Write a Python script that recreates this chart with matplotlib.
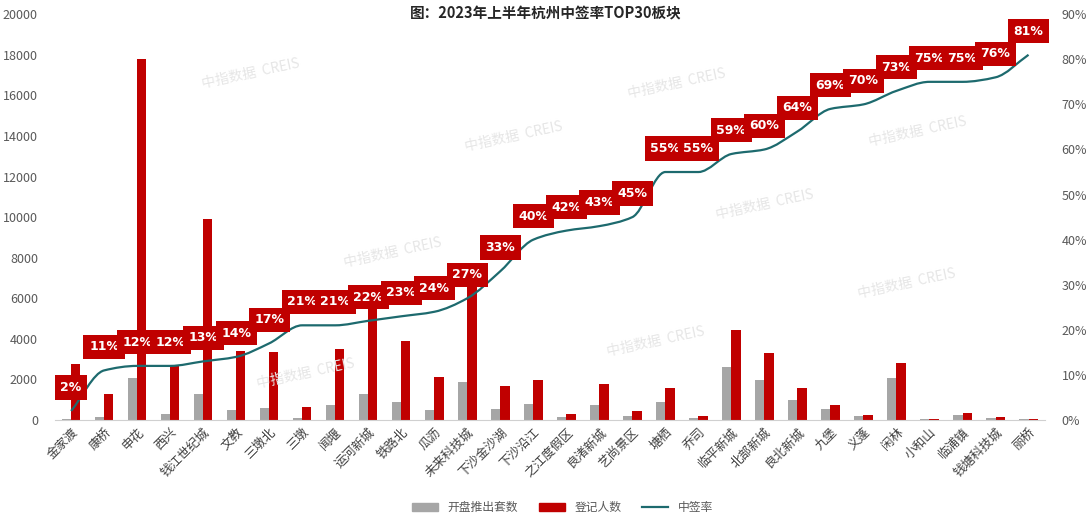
import numpy as np
import matplotlib
matplotlib.use('Agg')
import matplotlib.pyplot as plt
from matplotlib.path import Path
from matplotlib.patches import PathPatch, Patch
from matplotlib.lines import Line2D

plt.rcParams['font.family'] = ['Noto Sans CJK SC', 'DejaVu Sans']

# 数据
blocks = ['金家渡', '康桥', '申花', '西兴', '钱江世纪城', '文教', '三墩北', '三墩', '闻堰', '运河新城',
          '铁路北', '瓜沥', '未来科技城', '下沙金沙湖', '下沙沿江', '之江度假区', '良渚新城', '艺尚景区', '塘栖', '乔司',
          '临平新城', '北部新城', '良北新城', '九堡', '义蓬', '闲林', '小和山', '临浦镇', '钱塘科技城', '丽桥']
supply = [60, 140, 2070, 320, 1280, 480, 570, 120, 740, 1280,
          900, 510, 1860, 560, 780, 125, 750, 200, 870, 100,
          2620, 1980, 1010, 520, 180, 2050, 45, 250, 115, 57]
register = [2750, 1280, 17800, 2700, 9900, 3400, 3350, 650, 3520, 5800,
            3900, 2120, 6900, 1690, 1960, 300, 1760, 460, 1600, 180,
            4440, 3300, 1590, 750, 260, 2820, 60, 340, 150, 70]
rate = [2, 11, 12, 12, 13, 14, 17, 21, 21, 22, 23, 24, 27, 33, 40,
        42, 43, 45, 55, 55, 59, 60, 64, 69, 70, 73, 75, 75, 76, 81]

red = '#c00000'
gray = '#a6a6a6'
teal = '#1d6a6e'
tick_c = '#595959'

fig = plt.figure(figsize=(10.92, 5.26), dpi=100)
ax = fig.add_axes([0.050, 0.2015, 0.907, 0.7715])
ax2 = ax.twinx()

x = np.arange(len(blocks))
w = 0.28
ax.bar(x - w / 2, supply, w, color=gray, zorder=2)
ax.bar(x + w / 2, register, w, color=red, zorder=2)

ax.set_xlim(-0.5, len(blocks) - 0.5)
ax.set_ylim(0, 20000)
ax.set_yticks(np.arange(0, 20001, 2000))
ax.set_xticks(x)
ax.set_xticklabels(blocks, rotation=45, ha='right', rotation_mode='anchor',
                   fontsize=9, color='#404040')
ax.tick_params(axis='y', length=0, labelsize=9, labelcolor=tick_c, pad=12)
ax.tick_params(axis='x', length=0, pad=4)
for s in ['top', 'right', 'left']:
    ax.spines[s].set_visible(False)
ax.spines['bottom'].set_color('#d0d0d0')

# 中签率 平滑曲线（单调三次）
r = np.array(rate, dtype=float)
d = np.diff(r)
m = np.zeros_like(r)
m[0], m[-1] = d[0], d[-1]
for i in range(1, len(r) - 1):
    if d[i - 1] * d[i] <= 0:
        m[i] = 0
    else:
        m[i] = 2 / (1 / d[i - 1] + 1 / d[i])
verts = [(x[0], r[0])]
codes = [Path.MOVETO]
for i in range(len(x) - 1):
    verts += [(x[i] + 1 / 3, r[i] + m[i] / 3),
              (x[i + 1] - 1 / 3, r[i + 1] - m[i + 1] / 3),
              (x[i + 1], r[i + 1])]
    codes += [Path.CURVE4] * 3
ax2.add_patch(PathPatch(Path(verts, codes), fill=False, edgecolor=teal, lw=1.6, zorder=3))

ax2.set_ylim(0, 90)
ax2.set_yticks(np.arange(0, 91, 10))
ax2.set_yticklabels([f'{v}%' for v in range(0, 91, 10)])
ax2.tick_params(axis='y', length=0, labelsize=9, labelcolor=tick_c, pad=12)
for s in ['top', 'right', 'left', 'bottom']:
    ax2.spines[s].set_visible(False)

for xi, v in zip(x, rate):
    ax2.annotate(f'{v}%', (xi, v), xytext=(0, 17), textcoords='offset points',
                 ha='center', va='center', fontsize=9, fontweight='bold', color='white',
                 family=['DejaVu Sans'], zorder=5,
                 bbox=dict(boxstyle='square,pad=0.45', fc=red, ec='none'))

# 水印
for wx, wy in [(0.23, 0.86), (0.62, 0.84), (0.47, 0.74), (0.84, 0.75), (0.36, 0.52),
               (0.70, 0.61), (0.83, 0.46), (0.60, 0.35), (0.28, 0.29)]:
    fig.text(wx, wy, '中指数据  CREIS', fontsize=10, color='#e6e6e6', rotation=12,
             ha='center', va='center', zorder=0)

fig.text(0.5, 0.975, '图：2023年上半年杭州中签率TOP30板块', ha='center', va='center',
         fontsize=10.5, fontweight='bold', color='#262626')

handles = [Patch(color=gray), Patch(color=red), Line2D([], [], color=teal, lw=1.6)]
fig.legend(handles, ['开盘推出套数', '登记人数', '中签率'], loc='center', ncol=3,
           bbox_to_anchor=(0.515, 0.035), frameon=False, fontsize=8.5,
           handlelength=2.2, handleheight=0.6, columnspacing=1.8, labelcolor=tick_c)

fig.savefig('out.png', dpi=100, facecolor='white')
